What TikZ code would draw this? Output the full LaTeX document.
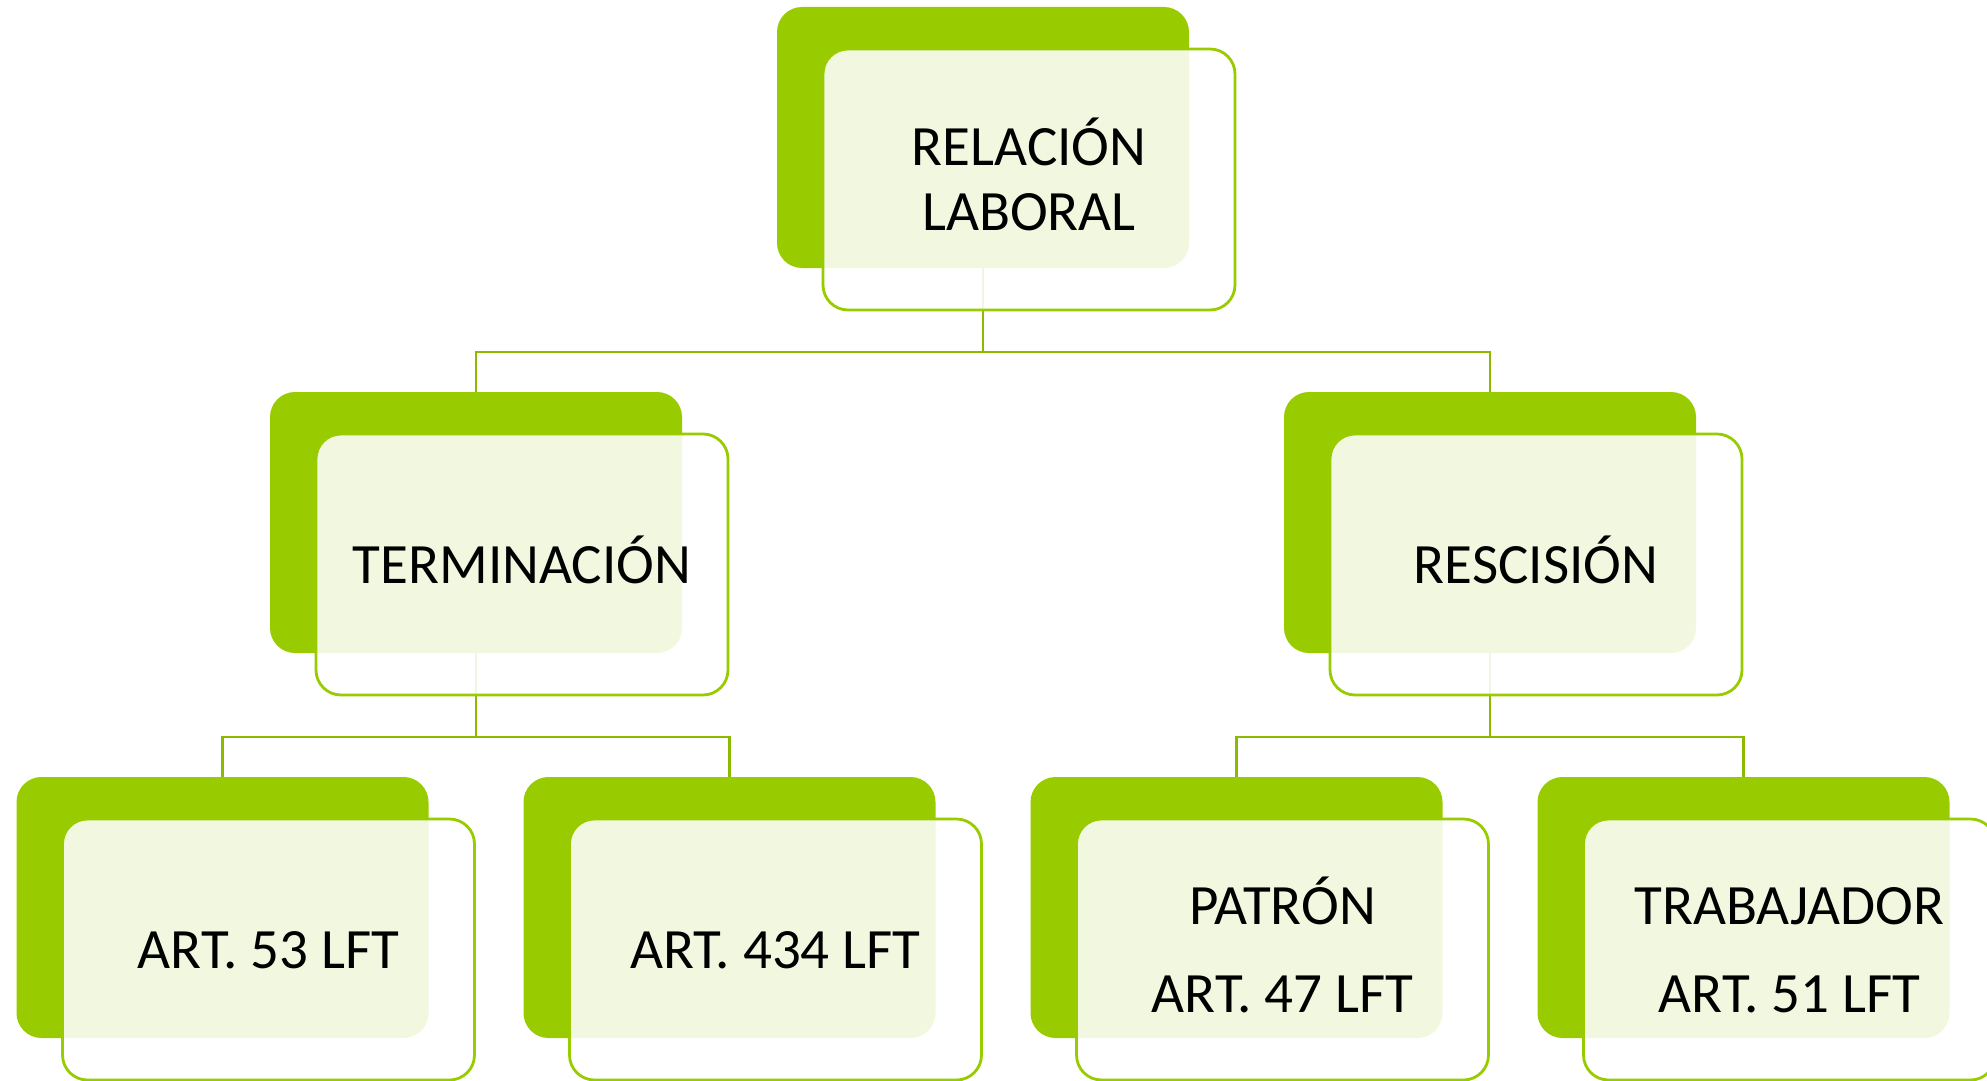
\documentclass[tikz,border=0pt]{standalone}
\usepackage{fontspec}
\setmainfont{Carlito}
\definecolor{leafgreen}{HTML}{99CC00}
\definecolor{linkgreen}{HTML}{8CBA00}

\begin{document}
\begin{tikzpicture}[x=1pt, y=-1pt, level distance=385pt]
        \tikzstyle{every node}=[fill=leafgreen, rounded corners=25pt, inner sep=0pt, minimum width=412pt, minimum height=261pt]
        \tikzstyle{level 1}=[sibling distance=1014pt]
        \tikzstyle{level 2}=[sibling distance=507pt]
        \tikzstyle{edge from parent}=[draw=linkgreen, line width=2.5pt]
        \tikzstyle{pane}=[draw=leafgreen, line width=2.8pt, fill=white, fill opacity=0.88, text opacity=1, align=center, font=\fontsize{57}{65}\selectfont, text depth=0pt, text height=37pt]

        \clip (0,0) rectangle (1987,1081);

% The green backs form the tree, the panes with the texts go on top.

        \node (rel) at (983,137.5) {}
            [edge from parent path={(\tikzparentnode.south) -- ++(0,84) -| (\tikzchildnode.north)}]
            child {node (ter) {}
                child {node (a53) {}}
                child {node (a434) {}}
            }
            child {node (res) {}
                child {node (pat) {}}
                child {node (tra) {}}
            };

        \node[pane, text height=102pt] (rel-p) at ([shift={(46,42)}]rel) {RELACIÓN\\LABORAL};
        \node[pane] (ter-p) at ([shift={(46,42)}]ter) {TERMINACIÓN};
        \node[pane] (res-p) at ([shift={(46,42)}]res) {RESCISIÓN};
        \node[pane] (a53-p) at ([shift={(46,42)}]a53) {ART. 53 LFT};
        \node[pane] (a434-p) at ([shift={(46,42)}]a434) {ART. 434 LFT};
        \node[pane, text height=125pt] (pat-p) at ([shift={(46,42)}]pat) {PATRÓN\\[23pt]ART. 47 LFT};
        \node[pane, text height=125pt] (tra-p) at ([shift={(46,42)}]tra) {TRABAJADOR\\[23pt]ART. 51 LFT};

    \end{tikzpicture}
\end{document}
